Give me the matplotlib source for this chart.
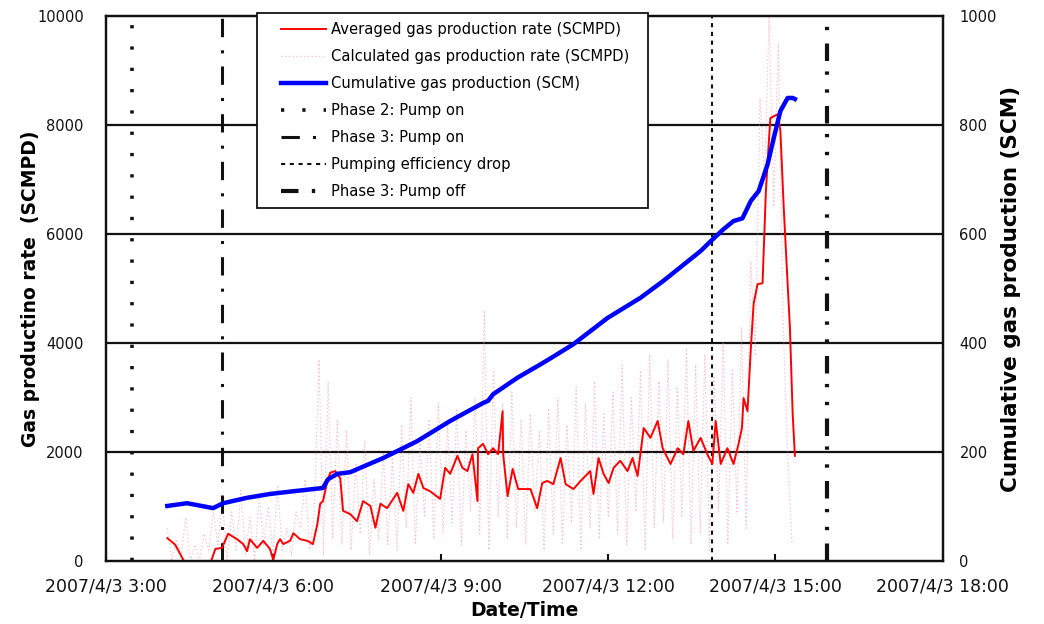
import numpy as np
import pandas as pd
import matplotlib
matplotlib.use('Agg')
import matplotlib.pyplot as plt
import matplotlib.dates as mdates
from matplotlib.patches import Rectangle

plt.rcParams['font.family'] = ['DejaVu Sans']

day = pd.Timestamp('2007-04-03')

# averaged gas production rate (SCMPD), time in hours of the day
avg_hours = [4.10, 4.24, 4.45, 4.69, 4.87, 4.96, 5.08, 5.19, 5.35, 5.46, 5.53, 5.58,
             5.71, 5.82, 5.94, 6.00, 6.07, 6.12, 6.18, 6.30, 6.36, 6.48, 6.61, 6.71,
             6.79, 6.84, 6.89, 6.97, 7.02, 7.11, 7.20, 7.25, 7.38, 7.50, 7.61, 7.74,
             7.83, 7.92, 8.04, 8.22, 8.33, 8.42, 8.51, 8.60, 8.69, 8.81, 8.99, 9.08,
             9.17, 9.30, 9.39, 9.48, 9.57, 9.66, 9.67, 9.76, 9.85, 9.94, 10.03, 10.11,
             10.12, 10.20, 10.29, 10.39, 10.61, 10.73, 10.82, 10.91, 11.02, 11.15, 11.24,
             11.38, 11.51, 11.68, 11.74, 11.83, 11.92, 12.01, 12.10, 12.22, 12.35, 12.44,
             12.53, 12.64, 12.76, 12.89, 12.98, 13.12, 13.25, 13.35, 13.44, 13.53, 13.66,
             13.78, 13.87, 13.93, 14.02, 14.14, 14.25, 14.34, 14.40, 14.43, 14.50, 14.56,
             14.61, 14.68, 14.77, 14.83, 14.88, 14.91, 15.04, 15.09, 15.15, 15.22, 15.26,
             15.31, 15.35]
avg_rate = [420, 300, -100, -300, -50, 220, 240, 500, 400, 310, 180, 400,
            240, 370, 220, 20, 310, 400, 310, 370, 510, 400, 370, 310,
            680, 1050, 1100, 1470, 1620, 1650, 1520, 920, 860, 730, 1100, 1010,
            610, 1050, 970, 1250, 920, 1410, 1250, 1600, 1340, 1280, 1140, 1710,
            1600, 1930, 1710, 1650, 1960, 1100, 2070, 2150, 1960, 2070, 1960, 2750,
            1960, 1190, 1690, 1320, 1320, 970, 1430, 1470, 1410, 1890, 1410,
            1320, 1470, 1650, 1230, 1890, 1600, 1430, 1710, 1840, 1650, 1890,
            1560, 2440, 2260, 2570, 2070, 1780, 2070, 1960, 2570, 2020, 2260,
            1960, 1780, 2570, 1780, 2070, 1780, 2150, 2440, 2990, 2750, 3900,
            4720, 5080, 5100, 6790, 7650, 8130, 8200, 7890, 6480, 5080, 4300,
            2700, 1930]

# calculated (raw) gas production rate, about every 5 minutes from 4:06 to 15:18
calc_rate = [600, 0, 400, 100, 800, 0, 300, 0, 500, 200, 900,
             300, 1100, 0, 900, 200, 1300, 100, 800, 0, 1200, 300, 1000, 100, 1400, 200,
             600, 100, 900,
             600, 1500, 200, 900, 3700, 100, 3300, 400,
             2600, 300, 2400, 200, 1800, 500, 2200, 100, 1500, 400, 2000, 300,
             1900, 200, 2500, 600, 3000, 300, 2200, 800, 2600, 400, 2900, 500,
             2500, 700, 2800, 300, 2400, 900, 3000, 500, 4600, 200, 3500, 800,
             2900, 400, 3100, 600, 2600, 300, 2700, 900, 2400, 200, 2800, 500,
             3000, 300, 2500, 700, 3200, 200, 2900, 600, 3300, 400, 2700, 800,
             3100, 500, 3600, 300, 3000, 900, 3500, 200, 3800, 600, 3300, 700,
             3700, 400, 3200, 800, 3900, 300, 3600, 500, 3800, 200, 3400, 900,
             4000, 300, 3500, 900, 4300, 600,
             5500, 3800, 8500, 7000, 10000, 6500, 9500, 4500, 2000, 300]
calc_start, calc_end = 4.1, 15.3

# cumulative gas production (SCM)
cum_hours = [4.10, 4.45, 4.56, 4.92, 5.10, 5.53, 5.94, 6.36, 6.89, 6.98, 7.15, 7.38,
             7.56, 7.97, 8.58, 9.17, 9.76, 9.85, 9.94, 10.37, 10.79, 10.97, 11.38,
             11.99, 12.58, 12.99, 13.66, 13.84, 14.07, 14.25, 14.41, 14.56, 14.70,
             14.86, 14.97, 15.09, 15.22, 15.31, 15.35]
cum_gas = [101, 106, 104, 97, 106, 116, 123, 128, 134, 150, 160, 163,
           171, 189, 220, 257, 290, 294, 306, 336, 361, 372, 398,
           446, 483, 514, 569, 587, 609, 624, 629, 661, 679,
           728, 776, 826, 850, 850, 848]

# event markers
events = ['Phase 2: Pump on', 'Phase 3: Pump on', 'Pumping efficiency drop', 'Phase 3: Pump off']
event_hours = [3 + 28 / 60, 5 + 5 / 60, 13 + 52 / 60, 15 + 55 / 60]


def at(hours):
    return day + pd.to_timedelta(np.asarray(hours, dtype=float), unit='h')


fig = plt.figure(figsize=(10.44, 6.24), dpi=100)
ax = fig.add_axes([0.1015, 0.101, 0.8015, 0.873])
ax2 = ax.twinx()

calc_t = at(np.linspace(calc_start, calc_end, len(calc_rate)))

l_avg, = ax.plot(at(avg_hours), avg_rate, color='#ff0000', lw=1.4, zorder=4,
                 label='Averaged gas production rate (SCMPD)')
l_calc, = ax.plot(calc_t, calc_rate, color='#f27a9b', lw=0.9, alpha=0.5,
                  linestyle=(0, (1, 2)), zorder=2,
                  label='Calculated gas production rate (SCMPD)')
l_cum, = ax2.plot(at(cum_hours), cum_gas, color='#0000ff', lw=3.2, zorder=4,
                  label='Cumulative gas production (SCM)')

styles = [dict(lw=2.6, linestyle=(0, (0.9, 5.0))),
          dict(lw=2.2, linestyle=(0, (6, 4.3, 1, 4.3))),
          dict(lw=1.5, linestyle=(0, (2, 2.2))),
          dict(lw=3.0, linestyle=(0, (4.2, 3.2, 0.8, 3.5, 0.8, 2.5)))]
ev_lines = []
for name, h, st in zip(events, event_hours, styles):
    ev_lines.append(ax.axvline(at([h])[0], color='#111111', zorder=3, label=name, **st))

for y in [2000, 4000, 6000, 8000]:
    ax.axhline(y, color='#111111', lw=1.6, zorder=1)

ax.set_xlim(at([3])[0], at([18])[0])
ax.set_ylim(0, 10000)
ax2.set_ylim(0, 1000)
ax.set_yticks(range(0, 10001, 2000))
ax2.set_yticks(range(0, 1001, 200))
ax.xaxis.set_major_locator(mdates.HourLocator(byhour=[3, 6, 9, 12, 15, 18]))
ax.xaxis.set_major_formatter(mdates.DateFormatter('%Y/%-m/%-d %-H:%M'))

for a in (ax, ax2):
    for s in a.spines.values():
        s.set_linewidth(1.6)
        s.set_color('#111111')
ax.tick_params(axis='x', direction='in', length=5, width=1.5, labelsize=12.5,
               pad=12, colors='#111111')
ax.tick_params(axis='y', direction='in', length=0, labelsize=10.5, pad=16,
               colors='#111111')
ax2.tick_params(axis='y', direction='in', length=0, labelsize=10.5, pad=12,
                colors='#111111')

ax.set_xlabel('Date/Time', fontsize=13.5, fontweight='bold', labelpad=4)
ax.set_ylabel('Gas productino rate  (SCMPD)', fontsize=13.5, fontweight='bold', labelpad=-2)
ax2.set_ylabel('Cumulative gas production (SCM)', fontsize=15.5, fontweight='bold',
               labelpad=3)

# legend box
fig.patches.append(Rectangle((257 / 1044, 1 - 208 / 624), 391 / 1044, 195 / 624,
                             transform=fig.transFigure, facecolor='white',
                             edgecolor='#111111', lw=1.3, zorder=1))
handles = [l_avg, l_calc, l_cum] + ev_lines
fig.legend(handles=handles, loc='upper left', bbox_to_anchor=(272 / 1044, 1 - 13 / 624),
           frameon=False, fontsize=10.6, handlelength=3.1, handletextpad=0.3,
           labelspacing=0.82, borderpad=0.1)

fig.savefig('out.png', dpi=100)
